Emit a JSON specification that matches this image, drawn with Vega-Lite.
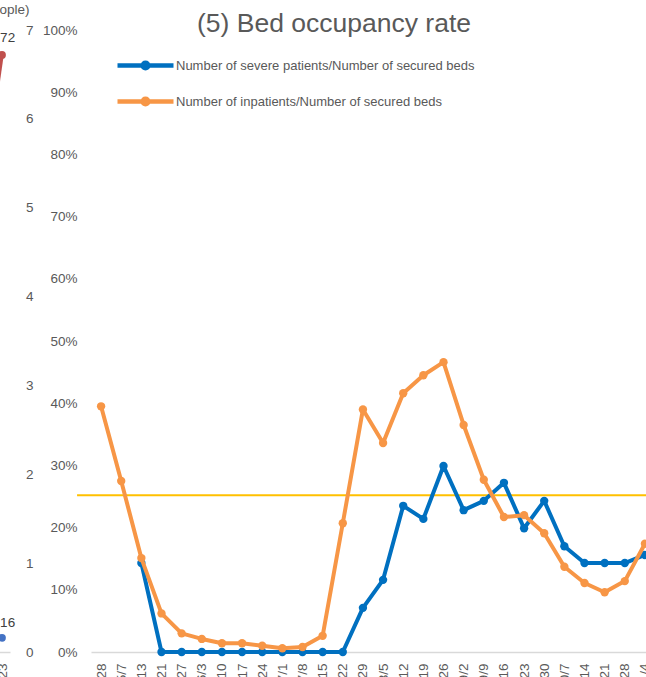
{
  "$schema": "https://vega.github.io/schema/vega-lite/v6.json",
  "autosize": "none",
  "width": 564,
  "height": 622,
  "padding": {"left": 91, "top": 30, "right": -9, "bottom": 25},
  "background": "white",
  "config": {
    "font": "Liberation Sans",
    "view": {"stroke": null},
    "axis": {"labelFont": "Liberation Sans", "labelColor": "#595959", "labelFontSize": 13.5, "grid": false, "ticks": false}
  },
  "title": {"text": "(5) Bed occupancy rate", "fontSize": 26.5, "fontWeight": "normal", "color": "#595959", "font": "Liberation Sans", "anchor": "middle", "frame": "group", "dx": -39, "baseline": "alphabetic", "offset": -56},
  "resolve": {"scale": {"x": "independent", "y": "independent"}},
  "layer": [
    {
      "data": {"values": [
        {"date": "4/28", "series": "Number of inpatients/Number of secured beds", "value": 0.395},
        {"date": "5/7", "series": "Number of inpatients/Number of secured beds", "value": 0.275},
        {"date": "5/13", "series": "Number of inpatients/Number of secured beds", "value": 0.151},
        {"date": "5/21", "series": "Number of inpatients/Number of secured beds", "value": 0.062},
        {"date": "5/27", "series": "Number of inpatients/Number of secured beds", "value": 0.030},
        {"date": "6/3", "series": "Number of inpatients/Number of secured beds", "value": 0.021},
        {"date": "6/10", "series": "Number of inpatients/Number of secured beds", "value": 0.014},
        {"date": "6/17", "series": "Number of inpatients/Number of secured beds", "value": 0.014},
        {"date": "6/24", "series": "Number of inpatients/Number of secured beds", "value": 0.010},
        {"date": "7/1", "series": "Number of inpatients/Number of secured beds", "value": 0.006},
        {"date": "7/8", "series": "Number of inpatients/Number of secured beds", "value": 0.008},
        {"date": "7/15", "series": "Number of inpatients/Number of secured beds", "value": 0.026},
        {"date": "7/22", "series": "Number of inpatients/Number of secured beds", "value": 0.207},
        {"date": "7/29", "series": "Number of inpatients/Number of secured beds", "value": 0.390},
        {"date": "8/5", "series": "Number of inpatients/Number of secured beds", "value": 0.336},
        {"date": "8/12", "series": "Number of inpatients/Number of secured beds", "value": 0.416},
        {"date": "8/19", "series": "Number of inpatients/Number of secured beds", "value": 0.445},
        {"date": "8/26", "series": "Number of inpatients/Number of secured beds", "value": 0.466},
        {"date": "9/2", "series": "Number of inpatients/Number of secured beds", "value": 0.365},
        {"date": "9/9", "series": "Number of inpatients/Number of secured beds", "value": 0.277},
        {"date": "9/16", "series": "Number of inpatients/Number of secured beds", "value": 0.217},
        {"date": "9/23", "series": "Number of inpatients/Number of secured beds", "value": 0.220},
        {"date": "9/30", "series": "Number of inpatients/Number of secured beds", "value": 0.191},
        {"date": "10/7", "series": "Number of inpatients/Number of secured beds", "value": 0.137},
        {"date": "10/14", "series": "Number of inpatients/Number of secured beds", "value": 0.111},
        {"date": "10/21", "series": "Number of inpatients/Number of secured beds", "value": 0.096},
        {"date": "10/28", "series": "Number of inpatients/Number of secured beds", "value": 0.114},
        {"date": "11/4", "series": "Number of inpatients/Number of secured beds", "value": 0.174},
        {"date": "5/13", "series": "Number of severe patients/Number of secured beds", "value": 0.143},
        {"date": "5/21", "series": "Number of severe patients/Number of secured beds", "value": 0},
        {"date": "5/27", "series": "Number of severe patients/Number of secured beds", "value": 0},
        {"date": "6/3", "series": "Number of severe patients/Number of secured beds", "value": 0},
        {"date": "6/10", "series": "Number of severe patients/Number of secured beds", "value": 0},
        {"date": "6/17", "series": "Number of severe patients/Number of secured beds", "value": 0},
        {"date": "6/24", "series": "Number of severe patients/Number of secured beds", "value": 0},
        {"date": "7/1", "series": "Number of severe patients/Number of secured beds", "value": 0},
        {"date": "7/8", "series": "Number of severe patients/Number of secured beds", "value": 0},
        {"date": "7/15", "series": "Number of severe patients/Number of secured beds", "value": 0},
        {"date": "7/22", "series": "Number of severe patients/Number of secured beds", "value": 0},
        {"date": "7/29", "series": "Number of severe patients/Number of secured beds", "value": 0.071},
        {"date": "8/5", "series": "Number of severe patients/Number of secured beds", "value": 0.116},
        {"date": "8/12", "series": "Number of severe patients/Number of secured beds", "value": 0.235},
        {"date": "8/19", "series": "Number of severe patients/Number of secured beds", "value": 0.214},
        {"date": "8/26", "series": "Number of severe patients/Number of secured beds", "value": 0.299},
        {"date": "9/2", "series": "Number of severe patients/Number of secured beds", "value": 0.228},
        {"date": "9/9", "series": "Number of severe patients/Number of secured beds", "value": 0.243},
        {"date": "9/16", "series": "Number of severe patients/Number of secured beds", "value": 0.272},
        {"date": "9/23", "series": "Number of severe patients/Number of secured beds", "value": 0.199},
        {"date": "9/30", "series": "Number of severe patients/Number of secured beds", "value": 0.243},
        {"date": "10/7", "series": "Number of severe patients/Number of secured beds", "value": 0.170},
        {"date": "10/14", "series": "Number of severe patients/Number of secured beds", "value": 0.143},
        {"date": "10/21", "series": "Number of severe patients/Number of secured beds", "value": 0.143},
        {"date": "10/28", "series": "Number of severe patients/Number of secured beds", "value": 0.143},
        {"date": "11/4", "series": "Number of severe patients/Number of secured beds", "value": 0.156},
        {"date": "4/28", "series": "threshold", "value": 0.252}
      ]},
      "encoding": {
        "x": {"field": "date", "type": "ordinal",
              "scale": {"type": "point", "padding": 0.5, "domain": ["4/28","5/7","5/13","5/21","5/27","6/3","6/10","6/17","6/24","7/1","7/8","7/15","7/22","7/29","8/5","8/12","8/19","8/26","9/2","9/9","9/16","9/23","9/30","10/7","10/14","10/21","10/28","11/4"]},
              "axis": {"title": null, "orient": "bottom", "labelAngle": -90, "labelPadding": 11, "domain": true, "domainColor": "#D9D9D9", "domainWidth": 1.5}},
        "y": {"field": "value", "type": "quantitative", "scale": {"domain": [0, 1], "nice": false},
              "axis": {"title": null, "orient": "left", "format": ".0%", "values": [0, 0.1, 0.2, 0.3, 0.4, 0.5, 0.6, 0.7, 0.8, 0.9, 1], "domain": false, "labelPadding": 14}}
      },
      "layer": [
        {"transform": [{"filter": "datum.series === 'threshold'"}],
         "mark": {"type": "rule", "color": "#FFC000", "strokeWidth": 2, "xOffset": -24, "x2Offset": 20},
         "encoding": {"x2": {"datum": "11/4"}}},
        {"transform": [{"filter": "datum.series === 'Number of severe patients/Number of secured beds'"}],
         "mark": {"type": "line", "strokeWidth": 4, "strokeJoin": "round", "strokeCap": "round"},
         "encoding": {"color": {"field": "series", "type": "nominal",
            "scale": {"domain": ["Number of severe patients/Number of secured beds", "Number of inpatients/Number of secured beds"], "range": ["#0070C0", "#F79646"]},
            "legend": {"title": null, "orient": "none", "legendX": 24, "legendY": 19, "padding": 0,
              "symbolType": "M-1,0H3M1.2,0A0.2,0.2,0,1,1,0.8,0A0.2,0.2,0,1,1,1.2,0",
              "symbolSize": 784, "symbolStrokeWidth": 4.5, "symbolOpacity": 1,
              "labelFont": "Liberation Sans", "labelFontSize": 13, "labelColor": "#595959", "labelOffset": 28, "labelLimit": 0, "rowPadding": 7,
              "encode": {"symbols": {"update": {"fill": {"scale": "color", "field": "value"}, "stroke": {"scale": "color", "field": "value"}}}}}}}},
        {"transform": [{"filter": "datum.series === 'Number of severe patients/Number of secured beds'"}],
         "mark": {"type": "point", "filled": true, "size": 70, "opacity": 1},
         "encoding": {"color": {"field": "series", "type": "nominal"}}},
        {"transform": [{"filter": "datum.series === 'Number of inpatients/Number of secured beds'"}],
         "mark": {"type": "line", "strokeWidth": 4, "strokeJoin": "round", "strokeCap": "round"},
         "encoding": {"color": {"field": "series", "type": "nominal"}}},
        {"transform": [{"filter": "datum.series === 'Number of inpatients/Number of secured beds'"}],
         "mark": {"type": "point", "filled": true, "size": 70, "opacity": 1},
         "encoding": {"color": {"field": "series", "type": "nominal"}}}
      ]
    },
    {
      "data": {"values": [
        {"date": "10/22", "series": "red", "value": 5.46},
        {"date": "10/23", "series": "red", "value": 6.72},
        {"date": "10/23", "series": "blue", "value": 0.16}
      ]},
      "encoding": {
        "x": {"field": "date", "type": "ordinal", "sort": null, "scale": {"type": "point", "padding": 0.5, "range": [-113, -81]},
              "axis": {"title": null, "orient": "bottom", "labelAngle": -90, "labelPadding": 11, "domain": true, "domainColor": "#D9D9D9", "domainWidth": 1.5}},
        "y": {"field": "value", "type": "quantitative", "scale": {"domain": [0, 7], "nice": false},
              "axis": {"orient": "left", "offset": 44, "title": "(people)", "titleAngle": 0, "titleAlign": "right", "titleBaseline": "middle", "titleX": -18, "titleY": -21, "titleFont": "Liberation Sans", "titleFontSize": 13.5, "titleFontWeight": "normal", "titleColor": "#595959", "domain": false, "labelPadding": 14, "values": [0, 1, 2, 3, 4, 5, 6, 7]}}
      },
      "layer": [
        {"transform": [{"filter": "datum.series === 'red'"}], "mark": {"type": "line", "color": "#C0504D", "strokeWidth": 3.5}},
        {"transform": [{"filter": "datum.series === 'red'"}], "mark": {"type": "point", "filled": true, "color": "#C0504D", "size": 60, "opacity": 1}},
        {"transform": [{"filter": "datum.series === 'red' && datum.date === '10/23'"}], "mark": {"type": "text", "dy": -17, "fontSize": 13.5, "color": "#404040"},
         "encoding": {"text": {"field": "value", "type": "quantitative", "format": ".2f"}}},
        {"transform": [{"filter": "datum.series === 'blue'"}], "mark": {"type": "point", "filled": true, "color": "#4472C4", "size": 60, "opacity": 1}},
        {"transform": [{"filter": "datum.series === 'blue'"}], "mark": {"type": "text", "dy": -15, "fontSize": 13.5, "color": "#404040"},
         "encoding": {"text": {"field": "value", "type": "quantitative", "format": ".2f"}}}
      ]
    }
  ]
}
